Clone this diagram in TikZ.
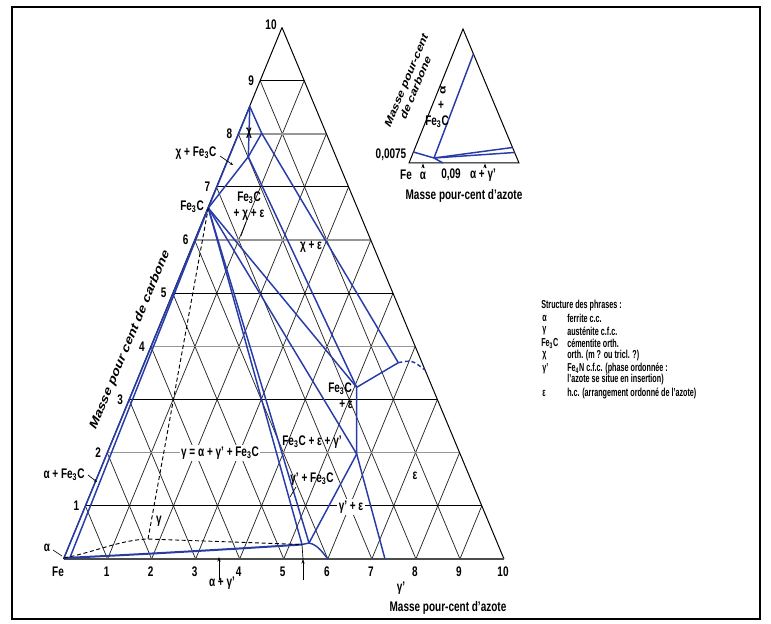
\documentclass[tikz,border=0pt]{standalone}
\usepackage{fontspec}
\setmainfont{Liberation Sans}
\usetikzlibrary{arrows.meta}
\definecolor{pblue}{RGB}{40,60,168}
\definecolor{gline}{RGB}{150,150,150}
\begin{document}
\begin{tikzpicture}[x=0.75pt,y=-0.75pt,
  lab/.style={font=\bfseries\fontsize{7.5}{8}\selectfont, inner sep=0.3pt, transform shape, yscale=1.39},
  leg/.style={font=\bfseries\fontsize{5.4}{6}\selectfont, inner sep=0pt, anchor=west, transform shape, yscale=1.6},
  gridk/.style={line width=0.75pt, black},
  gridg/.style={line width=1.1pt, gline},
  gridl/.style={line width=0.55pt, black!85},
  phase/.style={line width=1.1pt, pblue},
  dashl/.style={line width=0.7pt, black, dash pattern=on 3pt off 2pt},
  ptr/.style={line width=0.5pt, black},
  uparrow/.style={line width=0.6pt, black, -{Stealth[length=3.5pt,width=2.4pt]}}
]
\useasboundingbox (0,0) rectangle (771,624);
\fill[white] (0,0) rectangle (771,624);
\draw[line width=2pt] (12,7) rectangle (760,619);

% ---------- main ternary grid ----------
\begin{scope}[shift={(63.5,559)}, x={(33.0375pt,0pt)}, y={(16.3875pt,39.8625pt)}]
  \coordinate (Fe) at (0,0);
  \coordinate (N10) at (10,0);
  \coordinate (C10) at (0,10);
  \foreach \k in {1,...,9} {
    \draw[gridl] (\k,0) -- (\k,{10-\k});
    \draw[gridl] (\k,0) -- (0,\k);
  }
  \foreach \k in {1,3,5,7,9} \draw[gridk] (0,\k) -- ({10-\k},\k);
  \foreach \k in {2,4,6,8} \draw[gridg] (0,\k) -- ({10-\k},\k);
  \draw[gridk] (C10) -- (Fe);
  \draw[gridk] (C10) -- (N10);
  \draw[line width=1pt, black!70] (Fe) -- (N10);
\end{scope}

% ---------- phase boundaries ----------
\coordinate (P) at (208.3,208);
\coordinate (T) at (249.8,106.5);
\coordinate (X) at (261.7,133.3);
\coordinate (Y) at (248.3,156.7);
\coordinate (R) at (356.7,387.3);
\coordinate (S) at (398.3,362.7);
\coordinate (S2) at (425,370);
\coordinate (U) at (356.7,454);
\coordinate (B7) at (385,559);
\coordinate (Q) at (302,544.5);
\coordinate (Q2) at (309,543);
\coordinate (G6) at (328,559);
\coordinate (D) at (148,539);
\coordinate (F1) at (64,558);
\coordinate (F2) at (70,557.5);

\draw[phase] (F1) -- (P);
\draw[phase] (F2) -- (P);
\draw[phase] (P) -- (T);
\draw[phase] (T) -- (X) -- (S);
\draw[phase] (T) -- (Y);
\draw[phase] (X) -- (Y);
\draw[phase] (P) -- (Y);
\draw[phase] (Y) -- (R);
\draw[phase] (P) -- (R);
\draw[phase] (P) -- (U);
\draw[phase] (R) -- (S);
\draw[phase, dash pattern=on 3pt off 2pt] (S) .. controls (412,360) .. (S2);
\draw[phase] (R) -- (U) -- (B7);
\draw[phase] (P) -- (Q);
\draw[phase] (P) -- (Q2);
\draw[phase] (U) -- (Q2);
\draw[phase] (Q) -- (Q2) .. controls (318,545) and (322,552) .. (G6);
\draw[phase, line width=1.5pt] (F1) .. controls (150,554) and (250,548) .. (Q);
\draw[dashl] (F1) .. controls (95,552) and (120,540) .. (D) -- (Q);
\draw[dashl] (D) -- (P);

% small arrows at the base
\coordinate (QB) at (303,559);
\coordinate (QA) at (303,580);
\draw[ptr] (QB) -- (Q);
\draw[uparrow] (QA) -- (QB);
\coordinate (AGa) at (219,580);
\coordinate (AGb) at (219,557);
\draw[uparrow] (AGa) -- (AGb);

% ---------- axis numbers ----------
\foreach \k in {1,...,9}
  \node[lab] (lv\k) at ({63.5+21.85*\k-9},{559-53.15*\k}) {\k};
\node[lab] (lv10) at (271,25) {10};
\node[lab] (bnFe) at (58,572) {Fe};
\foreach \k in {1,...,10}
  \node[lab] (bn\k) at ({63.5+44.05*\k-1},572) {\k};

\begin{scope}[shift={(130,340)}]
  \node[lab, font=\bfseries\fontsize{8.2}{9}\selectfont, rotate=60] (caxis) at (0,0) {Masse pour cent de carbone};
\end{scope}
\node[lab] (naxis) at (448,608) {Masse pour-cent d'azote};
\node[lab] (gpr) at (401,588) {γ'};
\node[lab] (agp) at (222,583) {α + γ'};

% ---------- region labels ----------
\node[lab] (lchiFe) at (196,153) {χ + Fe\textsubscript{3}C};
\coordinate (chiFeA) at (220,156);
\coordinate (chiFeB) at (233,165);
\draw[ptr, -{Stealth[length=2.5pt,width=2pt]}] (chiFeA) -- (chiFeB);
\node[lab] (lchi) at (249,133) {χ};
\node[lab] (lFeP) at (192,207) {Fe\textsubscript{3}C};
\node[lab] (lFcx1) at (249,198) {Fe\textsubscript{3}C};
\node[lab] (lFcx2) at (249,215) {+ χ + ε};
\coordinate (fcxA) at (246,222);
\coordinate (fcxB) at (241,236);
\draw[ptr] (fcxA) -- (fcxB);
\node[lab] (lchie) at (311,247) {χ + ε};
\node[lab] (lFe1) at (340,389) {Fe\textsubscript{3}C};
\node[lab] (lFe2) at (346,404) {+ ε};
\node[lab] (lFeg) at (312,442) {Fe\textsubscript{3}C + ε + γ'};
\node[lab, fill=white, inner sep=1pt] (lgam) at (220,453) {γ = α + γ' + Fe\textsubscript{3}C};
\node[lab] (lgFe) at (312,479) {γ' + Fe\textsubscript{3}C};
\coordinate (gFeA) at (296,487);
\coordinate (gFeB) at (290,497);
\draw[ptr] (gFeA) -- (gFeB);
\node[lab, fill=white, inner sep=1pt] (lge) at (351,507) {γ' + ε};
\node[lab] (leps) at (415,476) {ε};
\node[lab] (lg) at (159,521) {γ};
\node[lab] (laFe) at (64,475) {α + Fe\textsubscript{3}C};
\coordinate (aFeA) at (88,475);
\coordinate (aFeB) at (97,482);
\draw[ptr, -{Stealth[length=2.5pt,width=2pt]}] (aFeA) -- (aFeB);
\node[lab] (lal) at (47,548) {α};
\coordinate (alA) at (53,550);
\coordinate (alB) at (62,556);
\draw[ptr] (alA) -- (alB);

% ---------- inset ----------
\coordinate (I0) at (409,163);
\coordinate (I1) at (519,163);
\coordinate (I2) at (463,29);
\draw[gridk] (I0) -- (I1) -- (I2) -- cycle;
\coordinate (J) at (434,158);
\coordinate (E0) at (413.4,152);
\coordinate (K1) at (512.5,147.5);
\coordinate (K2) at (514.6,152.5);
\coordinate (KT) at (473.4,54);
\coordinate (JB) at (443,163);
\draw[phase] (E0) -- (J) -- (K2);
\draw[phase] (J) -- (K1);
\draw[phase] (J) -- (KT);
\draw[phase] (J) -- (JB);
\begin{scope}[shift={(411,84)}]
  \node[lab, font=\bfseries\fontsize{7.2}{8}\selectfont, rotate=60, align=center] (icaxis) at (0,0) {Masse pour-cent\\de carbone};
\end{scope}
\node[lab, rotate=90] (ial) at (443,90) {α};
\node[lab] (iplus) at (441,105) {+};
\node[lab] (iFe3C) at (437,122) {Fe\textsubscript{3}C};
\node[lab] (i0075) at (391,155) {0,0075};
\node[lab] (iFe) at (406,175) {Fe};
\node[lab] (ialpha) at (423,176) {α};
\node[lab] (i009) at (451,175) {0,09};
\node[lab] (iag) at (483,175) {α + γ'};
\coordinate (iaA) at (423,168.5);
\coordinate (iaB) at (423,163.5);
\draw[uparrow] (iaA) -- (iaB);
\coordinate (igA) at (485,168.5);
\coordinate (igB) at (485,163.5);
\draw[uparrow] (igA) -- (igB);
\node[lab] (iaxis) at (464,196) {Masse pour-cent d'azote};

% ---------- legend ----------
\node[leg] (lg0) at (541,306) {Structure des phrases :};
\node[leg] (lgs1) at (542,318.5) {α};
\node[leg] (lgt1) at (567,318.5) {ferrite c.c.};
\node[leg] (lgs2) at (542,331) {γ};
\node[leg] (lgt2) at (567,331) {austénite c.f.c.};
\node[leg] (lgs3) at (541,343.5) {Fe\textsubscript{3}C};
\node[leg] (lgt3) at (567,343.5) {cémentite orth.};
\node[leg] (lgs4) at (542,356) {χ};
\node[leg] (lgt4) at (567,356) {orth. (m ? ou tricl. ?)};
\node[leg] (lgs5) at (542,368.5) {γ'};
\node[leg] (lgt5) at (567,368.5) {Fe\textsubscript{4}N c.f.c. (phase ordonnée :};
\node[leg] (lgt5b) at (567,380) {l'azote se situe en insertion)};
\node[leg] (lgs6) at (542,393) {ε};
\node[leg] (lgt6) at (567,393) {h.c. (arrangement ordonné de l'azote)};
\end{tikzpicture}
\end{document}
